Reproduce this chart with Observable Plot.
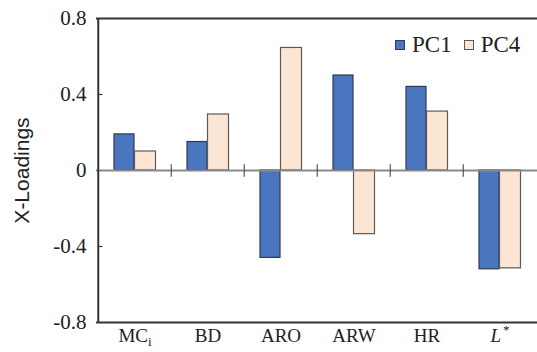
<!DOCTYPE html>
<html><head><meta charset="utf-8">
<script src="https://cdn.jsdelivr.net/npm/d3@7"></script>
<script src="https://cdn.jsdelivr.net/npm/@observablehq/plot@0.6"></script>
<style>
body{margin:0;background:#fff}
#c{position:relative;width:537px;height:352px}
.leg{position:absolute;top:32px;left:395px;font-family:"Liberation Serif","Times New Roman",serif;font-size:23px;display:flex;align-items:center;color:#222;white-space:nowrap}
.sw{display:inline-block;width:8px;height:8px;border:1px solid #444;margin-right:7px}
#c svg text{font-family:"Liberation Serif","Times New Roman",serif}
#c svg g[aria-label="y-axis tick label"] text{font-size:21px}
#c svg g[aria-label="y-axis label"] text{font-family:"Liberation Sans",Arial,sans-serif;font-size:21px}
</style></head><body><div id="c"></div>
<script>
const categories = ["MCi","BD","ARO","ARW","HR","L*"];
const series = ["PC1","PC4"];
const pc1 = [0.19,0.15,-0.46,0.50,0.44,-0.52];
const pc4 = [0.10,0.295,0.645,-0.335,0.31,-0.515];
const yTicks = [-0.8,-0.4,0,0.4,0.8];
const colors = ["#4a76c0","#fde5d4"];
const strokes = ["#2c3a55","#5a5a5a"];

const d1 = categories.map((c,i)=>({cat:c, series:series[0], value:pc1[i]}));
const d4 = categories.map((c,i)=>({cat:c, series:series[1], value:pc4[i]}));
const W = 537, ML = 96, MR = 0;
const bw = (W-ML-MR)/categories.length;
const serif = "Liberation Serif";

const chart = Plot.plot({
  width: W, height: 352,
  marginLeft: ML, marginRight: MR, marginTop: 18, marginBottom: 30,
  style: {fontFamily: serif, fontSize: "19px", color: "#222", background: "#fff"},
  x: {type: "band", domain: categories, padding: 0},
  y: {domain: [-0.8, 0.8]},
  marks: [
    Plot.barY(d1, {x: "cat", y: "value", fill: colors[0], stroke: strokes[0], strokeWidth: 1.2, insetLeft: 16, insetRight: 37}),
    Plot.barY(d4, {x: "cat", y: "value", fill: colors[1], stroke: strokes[1], strokeWidth: 1.2, insetLeft: 36.5, insetRight: 15.5}),
    Plot.ruleY([0], {stroke: "#8a8a8a", strokeWidth: 2}),
    Plot.ruleY([0.8, -0.8], {stroke: "#333", strokeWidth: 2}),
    Plot.ruleX([categories[0]], {x: d=>d, dx: -bw/2, y1: -0.8, y2: 0.8, stroke: "#333", strokeWidth: 2}),
    Plot.ruleX(categories.slice(1), {x: d=>d, dx: -bw/2, y1: -0.035, y2: 0.03, stroke: "#555", strokeWidth: 1.2}),
    Plot.tickY(yTicks.filter(d => Math.abs(d) !== 0.8 && d !== 0), {x: () => categories[0], y: d => d, insetRight: bw - 5, stroke: "#333", strokeWidth: 1.2}),
    Plot.axisY({ticks: yTicks, tickFormat: d => d === 0 ? "0" : String(d), tickSize: 0, tickPadding: 10, label: "X-Loadings", labelAnchor: "center", labelOffset: 82}),
    Plot.axisX({tickSize: 0, tickPadding: 6, label: null})
  ]
});
document.getElementById("c").appendChild(chart);

// rich tick labels
d3.select(chart).selectAll('[aria-label="x-axis tick label"] text').each(function(){
  const t = d3.select(this); const s = t.text();
  if (s === "MCi") { t.text("MC"); t.append("tspan").attr("font-size","13px").attr("dy","4").text("i"); }
  if (s === "L*") { t.text(""); t.append("tspan").attr("font-style","italic").text("L"); t.append("tspan").attr("font-size","13px").attr("dy","-8").attr("dx","2").text("*"); }
});
d3.select(chart).selectAll('[aria-label="y-axis label"] text').text("X-Loadings");

// legend
const leg = d3.select("#c").append("div").attr("class","leg");
series.forEach((s,i)=>{
  leg.append("span").attr("class","sw").style("background",colors[i]).style("border-color",strokes[i]).style("margin-left", i? "12px":"0");
  leg.append("span").text(s);
});
</script></body></html>
